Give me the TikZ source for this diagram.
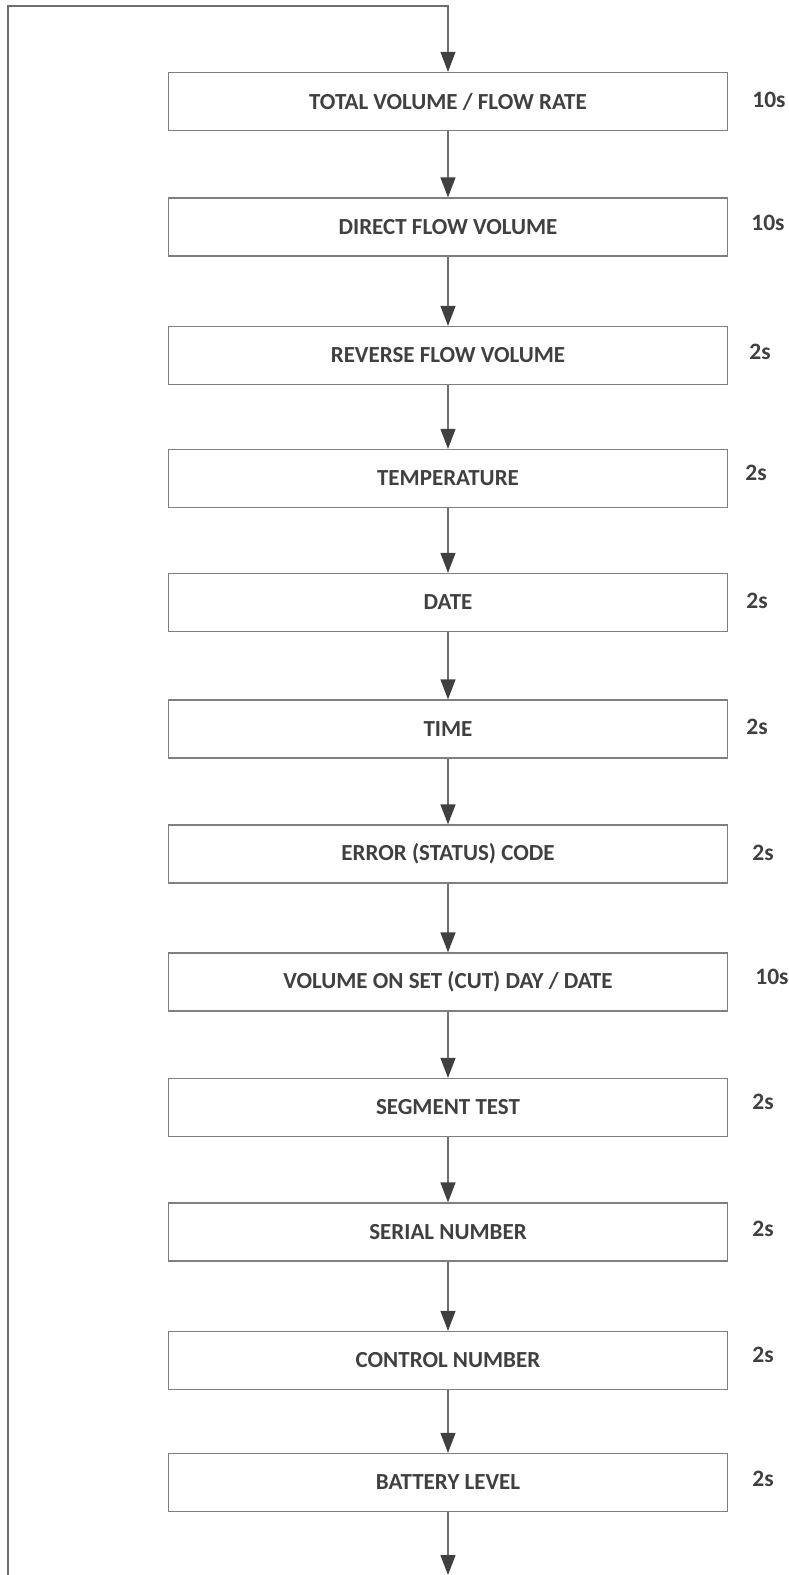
\documentclass[tikz,border=0pt]{standalone}
\usepackage{fontspec}
\setmainfont{Carlito}
\usetikzlibrary{arrows.meta}
\definecolor{txt}{HTML}{404040}
\definecolor{edge}{HTML}{7F7F7F}
\definecolor{linec}{HTML}{6E6E6E}
\begin{document}
\begin{tikzpicture}[x=1pt,y=-1pt,
  box/.style={draw=edge,line width=1.3pt,minimum width=559pt,minimum height=58pt,inner sep=0pt,font=\fontsize{23}{27}\selectfont\bfseries,text=txt},
  lab/.style={font=\fontsize{23.5}{27}\selectfont\bfseries,text=txt,inner sep=0pt},
  arr/.style={draw=linec,line width=1.3pt,-{Triangle[length=20pt,width=15pt,color=txt]}},
  loopline/.style={arr,line width=1.1pt}]
\path[use as bounding box] (0,0) rectangle (789,1575);
\node[box] (b1) at (448,101.5) {TOTAL VOLUME / FLOW RATE};
\node[box] (b2) at (448,227) {DIRECT FLOW VOLUME};
\node[box] (b3) at (448,355.5) {REVERSE FLOW VOLUME};
\node[box] (b4) at (448,478.5) {TEMPERATURE};
\node[box] (b5) at (448,602.5) {DATE};
\node[box] (b6) at (448,729) {TIME};
\node[box] (b7) at (448,854) {ERROR (STATUS) CODE};
\node[box] (b8) at (448,982) {VOLUME ON SET (CUT) DAY / DATE};
\node[box] (b9) at (448,1107.5) {SEGMENT TEST};
\node[box] (b10) at (448,1232) {SERIAL NUMBER};
\node[box] (b11) at (448,1360.5) {CONTROL NUMBER};
\node[box] (b12) at (448,1482.5) {BATTERY LEVEL};
\node[lab] (t1) at (769,100) {10s};
\node[lab] (t2) at (768,223) {10s};
\node[lab] (t3) at (760,352) {2s};
\node[lab] (t4) at (756,473) {2s};
\node[lab] (t5) at (757,601) {2s};
\node[lab] (t6) at (757,727) {2s};
\node[lab] (t7) at (763,853) {2s};
\node[lab] (t8) at (772,977) {10s};
\node[lab] (t9) at (763,1102) {2s};
\node[lab] (t10) at (763,1229) {2s};
\node[lab] (t11) at (763,1355) {2s};
\node[lab] (t12) at (763,1479) {2s};
\foreach \a/\b in {b1/b2,b2/b3,b3/b4,b4/b5,b5/b6,b6/b7,b7/b8,b8/b9,b9/b10,b10/b11,b11/b12}
  \draw[arr] (\a) -- (\b);
\coordinate (lb) at (8,1575);
\coordinate (lt) at (8,6);
\coordinate (fin) at (448,1575);
\draw[loopline] (lb) -- (lt) -| (b1.north);
\draw[arr] (b12) -- (fin);
\end{tikzpicture}
\end{document}
